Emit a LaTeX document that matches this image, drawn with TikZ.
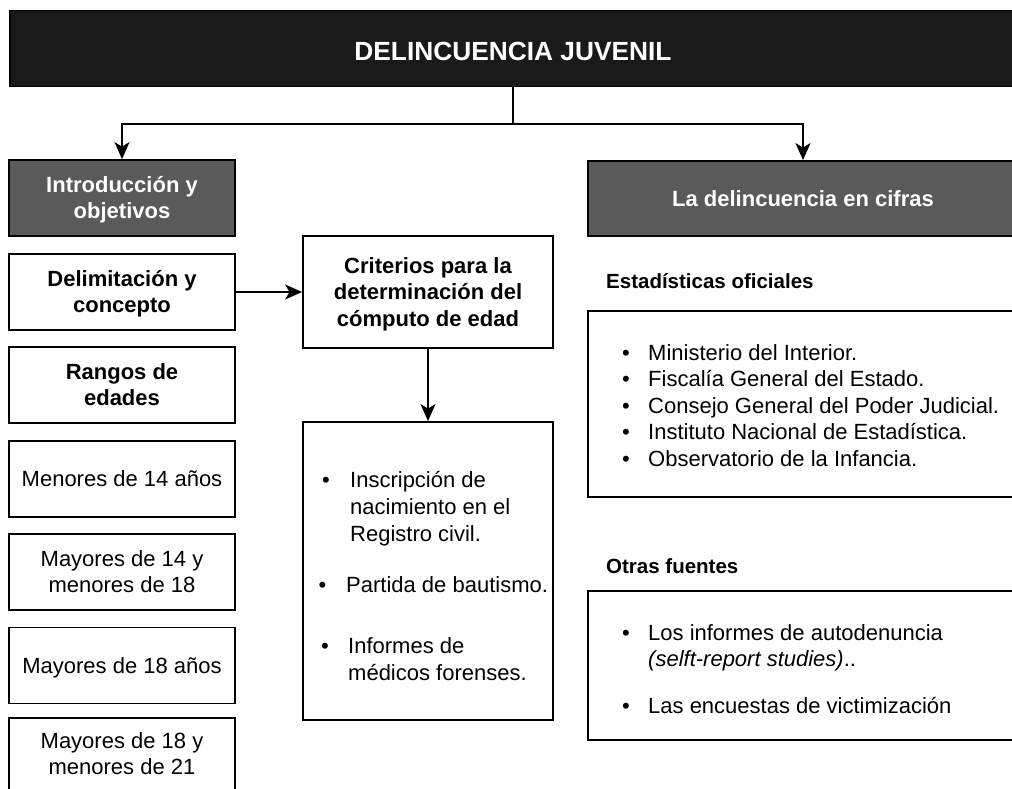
\documentclass[tikz,border=0pt]{standalone}
\usepackage{fontspec}
\setmainfont{Liberation Sans}
\usetikzlibrary{arrows.meta}
\definecolor{titlebg}{HTML}{1A1A1A}
\definecolor{headbg}{HTML}{5A5A5A}
\newcommand{\ls}{\rule[-5.6pt]{0pt}{26.4pt}}
\newcommand{\ts}{\rule[-4pt]{0pt}{32pt}}
\tikzset{
 box/.style={draw=black, line width=1.8pt, fill=white, rectangle, inner sep=0pt, align=center},
 headbox/.style={box, fill=headbg, text=white, font=\bfseries\fontsize{22}{26.4}\selectfont},
 boldbox/.style={box, font=\bfseries\fontsize{22}{26.4}\selectfont},
 plainbox/.style={box, font=\fontsize{22}{26.4}\selectfont},
 leftbox/.style={minimum width=226pt, minimum height=76pt},
 txt/.style={anchor=base west, inner sep=0pt, font=\fontsize{22}{26.4}\selectfont},
 bul/.style={anchor=base, inner sep=0pt, font=\fontsize{22}{26.4}\selectfont},
 subhead/.style={anchor=base west, inner sep=0pt, font=\bfseries\fontsize{20.5}{24}\selectfont},
 conn/.style={line width=1.8pt, -{Stealth[length=17pt,width=15pt,inset=4.5pt]}},
}
\begin{document}
\begin{tikzpicture}[x=1pt,y=-1pt]
\useasboundingbox (0,0) rectangle (1012,788);
\clip (0,0) rectangle (1012,788);
% title
\node[box, fill=titlebg, text=white, font=\bfseries\fontsize{26.3}{31}\selectfont,
      minimum width=1006pt, minimum height=76pt] (title) at (513,48.5) {\ts DELINCUENCIA JUVENIL};
% left column
\node[headbox, leftbox] (intro) at (122,198) {\ls Introducción y\\\ls objetivos};
\node[boldbox, leftbox] (delim) at (122,292) {\ls Delimitación y\\\ls concepto};
\node[boldbox, leftbox] (rangos) at (122,385) {\ls Rangos de\\\ls edades};
\node[plainbox, leftbox] (m14) at (122,479) {\ls Menores de 14 años};
\node[plainbox, leftbox] (m1418) at (122,572) {\ls Mayores de 14 y\\\ls menores de 18};
\node[plainbox, leftbox] (m18) at (122,665.5) {\ls Mayores de 18 años};
\node[plainbox, minimum width=226pt, minimum height=72pt] (m1821) at (122,754) {\ls Mayores de 18 y\\\ls menores de 21};
% middle column
\node[boldbox, minimum width=250pt, minimum height=112pt] (crit) at (428,292)
  {\ls Criterios para la\\\ls determinación del\\\ls cómputo de edad};
\node[box, minimum width=250pt, minimum height=298pt] (critlist) at (428,571) {};
\node[bul] (cb1) at (326,487) {•};
\node[txt] (ct1) at (350,487) {Inscripción de};
\node[txt] (ct2) at (350,514) {nacimiento en el};
\node[txt] (ct3) at (350,541) {Registro civil.};
\node[bul] (cb2) at (322.5,592) {•};
\node[txt] (ct4) at (346,592) {Partida de bautismo.};
\node[bul] (cb3) at (325,653) {•};
\node[txt] (ct5) at (348,653) {Informes de};
\node[txt] (ct6) at (348,680) {médicos forenses.};
% right column
\node[headbox, minimum width=430pt, minimum height=75pt] (cifras) at (803,198.5) {\ls La delincuencia en cifras};
\node[subhead] (estad) at (606,288) {Estadísticas oficiales};
\node[box, minimum width=430pt, minimum height=186pt] (estlist) at (803,404) {};
\node[bul] (eb1) at (626,360) {•};
\node[txt] (et1) at (648,360) {Ministerio del Interior.};
\node[bul] (eb2) at (626,386.5) {•};
\node[txt] (et2) at (648,386.5) {Fiscalía General del Estado.};
\node[bul] (eb3) at (626,413) {•};
\node[txt] (et3) at (648,413) {Consejo General del Poder Judicial.};
\node[bul] (eb4) at (626,439.5) {•};
\node[txt] (et4) at (648,439.5) {Instituto Nacional de Estadística.};
\node[bul] (eb5) at (626,466) {•};
\node[txt] (et5) at (648,466) {Observatorio de la Infancia.};
\node[subhead] (otras) at (606,573) {Otras fuentes};
\node[box, minimum width=430pt, minimum height=149pt] (otlist) at (803,665.5) {};
\node[bul] (ob1) at (626,640) {•};
\node[txt] (ot1) at (648,640) {Los informes de autodenuncia};
\node[txt] (ot2) at (648,666) {\textit{(selft-report studies)}..};
\node[bul] (ob2) at (626,713) {•};
\node[txt] (ot3) at (648,713) {Las encuestas de victimización};
% connectors
\coordinate (mid) at (513,124);
\draw[line width=1.8pt] (title.south) -- (mid);
\draw[conn] (mid) -| (intro.north);
\draw[conn] (mid) -| (cifras.north);
\draw[conn] (delim.east) -- (crit.west);
\draw[conn] (crit.south) -- (critlist.north);
\end{tikzpicture}
\end{document}
